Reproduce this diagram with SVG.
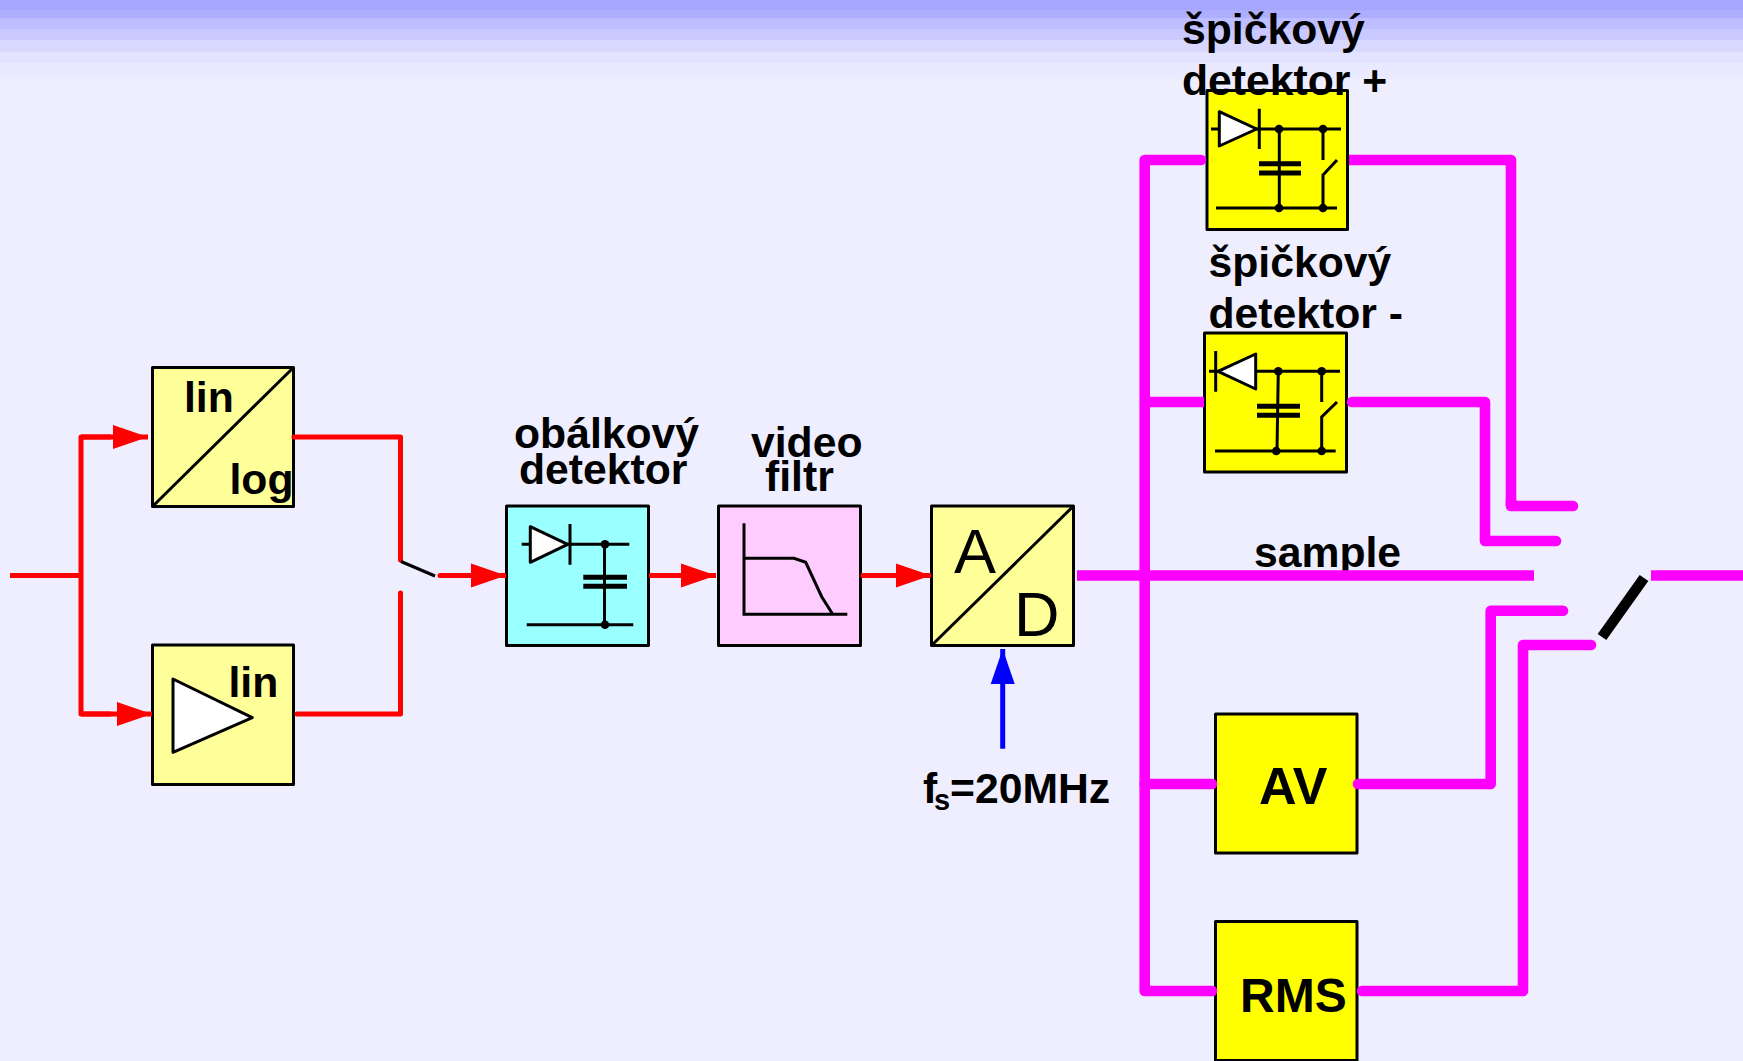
<svg xmlns="http://www.w3.org/2000/svg" width="1743" height="1061" viewBox="0 0 1743 1061">
<style>
text{font-family:"Liberation Sans",Arial,sans-serif;font-weight:bold;font-size:42.7px;fill:#000}
text.reg{font-weight:normal;font-size:63px}
text.rms{font-size:48px}
text.av{font-size:52px}
.box{stroke:#000;stroke-width:3;stroke-linejoin:round}
.pale{fill:#FFFF99}.yel{fill:#FFFF00}.cy{fill:#99FFFF}.pk{fill:#FFCCFF}
.ln{fill:none;stroke:#000;stroke-width:3}
.tri{fill:#fff;stroke:#000;stroke-width:3;stroke-linejoin:round}
.plate{fill:none;stroke:#000;stroke-width:5}
.dot{fill:#000}
.red{fill:none;stroke:#FF0000;stroke-width:5;stroke-linejoin:round;stroke-linecap:round}
.redb{fill:none;stroke:#FF0000;stroke-width:5}
.mag{fill:none;stroke:#FF00FF;stroke-width:10.6;stroke-linejoin:round;stroke-linecap:round}
.magb{fill:none;stroke:#FF00FF;stroke-width:10.6;stroke-linejoin:round}
</style>
<defs>
<marker id="arrowRed" markerUnits="userSpaceOnUse" markerWidth="36" markerHeight="26" refX="35" refY="13" orient="auto"><path d="M0 1L35 13L0 25Z" fill="#FF0000"/></marker>
<marker id="arrowBlue" markerUnits="userSpaceOnUse" markerWidth="36" markerHeight="26" refX="35" refY="13" orient="auto"><path d="M0 1L35 13L0 25Z" fill="#0000FF"/></marker>
</defs>
<g id="background">
<rect x="0" y="0" width="1743" height="1061" fill="#EEEEFE"/>
<rect x="0" y="0" width="1743" height="10" fill="#A6A6FF"/>
<rect x="0" y="10" width="1743" height="8" fill="#AEAEFF"/>
<rect x="0" y="18" width="1743" height="11" fill="#BDBDFF"/>
<rect x="0" y="29" width="1743" height="11" fill="#C9C9FF"/>
<rect x="0" y="40" width="1743" height="12" fill="#D8D8FF"/>
<rect x="0" y="52" width="1743" height="11" fill="#E3E3FF"/>
<rect x="0" y="63" width="1743" height="16" fill="#E9E9FF"/>
</g>
<g id="node-linlog">
<rect class="box pale" x="152.5" y="367.5" width="141" height="139"/>
<path class="ln" d="M152.5 506.5L293.5 367.5"/>
<text x="184" y="412">lin</text>
<text x="229.500" y="494">log</text>
</g>
<g id="node-lin">
<rect class="box pale" x="152.5" y="645" width="141" height="139.500"/>
<path class="tri" d="M173 679V752.3L252.3 717.7Z"/>
<text x="228.500" y="697">lin</text>
</g>
<g id="node-envelope">
<text x="514" y="448">obálkový</text>
<text x="519" y="484">detektor</text>
<rect class="box cy" x="506.5" y="506" width="142" height="139.500"/>
<path class="ln" d="M521.7 544.3H629.3M604.5 544.3V624.7M526.7 624.7H633.3M570 524V564.7"/>
<path class="tri" d="M530.3 526.7V562.3L567.7 544.3Z"/>
<path class="plate" d="M583.3 577.3H627M583.3 586.3H627"/>
<circle class="dot" cx="605" cy="544.3" r="4.300"/><circle class="dot" cx="605" cy="624.7" r="4.300"/>
</g>
<g id="node-video">
<text x="751" y="457">video</text>
<text x="765" y="491">filtr</text>
<rect class="box pk" x="718.500" y="506" width="142" height="139.500"/>
<path class="ln" d="M744 523.3V614.3H847.3M744 558.3H794L805.7 562.3L821.7 596.7L832.7 614.3"/>
</g>
<g id="node-ad">
<rect class="box pale" x="931.5" y="506" width="142" height="139.500"/>
<path class="ln" d="M931.5 645.5L1073.5 506"/>
<text class="reg" x="954" y="573">A</text>
<text class="reg" x="1014" y="636">D</text>
</g>
<g id="node-peak-plus">
<rect class="box yel" x="1207" y="90.500" width="140.500" height="139"/>
<path class="ln" d="M1211 129H1341M1279.3 129V208M1216 208H1337M1259.3 108.7V149M1323 129V160M1323 208V175L1337 160"/>
<path class="tri" d="M1219.3 111.7V146L1256.7 129Z"/>
<path class="plate" d="M1259 163.7H1301M1259 173H1301"/>
<circle class="dot" cx="1279" cy="129" r="4.300"/><circle class="dot" cx="1323" cy="129" r="4.300"/><circle class="dot" cx="1279" cy="208" r="4.300"/><circle class="dot" cx="1323" cy="208" r="4.300"/>
<text x="1182" y="43.500">špičkový</text>
<text x="1182" y="95">detektor +</text>
</g>
<g id="node-peak-minus">
<text x="1208.500" y="276.500">špičkový</text>
<text x="1208.500" y="327.500">detektor -</text>
<rect class="box yel" x="1204.5" y="333" width="142" height="139"/>
<path class="ln" d="M1209 371.3H1340M1278.3 371.3L1277 451M1215 451H1335.7M1215.7 351V391.7M1321.7 371.3V402M1321.7 451V417L1337 402"/>
<path class="tri" d="M1255.7 354V389L1218 371.3Z"/>
<path class="plate" d="M1257 406.3H1300M1257 415.3H1300"/>
<circle class="dot" cx="1278.3" cy="371.3" r="4.300"/><circle class="dot" cx="1321.7" cy="371.3" r="4.300"/><circle class="dot" cx="1276.3" cy="451" r="4.300"/><circle class="dot" cx="1321.7" cy="451" r="4.300"/>
</g>
<g id="node-av">
<rect class="box yel" x="1215.5" y="714" width="141.500" height="139"/>
<text class="av" x="1259" y="804">AV</text>
</g>
<g id="node-rms">
<rect class="box yel" x="1215.5" y="921.500" width="141.500" height="139"/>
<text class="rms" x="1240" y="1012">RMS</text>
</g>
<g id="label-fs">
<text x="923" y="803">f</text>
<text x="934" y="810" style="font-size:29px">s</text>
<text x="950" y="803">=20MHz</text>
</g>
<g id="label-sample"><text x="1254" y="567">sample</text></g>
<g id="connectors">
<path class="redb" d="M10 575.500H81"/>
<path class="redb" d="M81 437H148" marker-end="url(#arrowRed)"/>
<path class="redb" d="M81 714H152" marker-end="url(#arrowRed)"/>
<path class="red" d="M110 437H81V714H110"/>
<path class="red" d="M294 437H400.5V560"/>
<path class="red" d="M400.5 593V714H297"/>
<path class="ln" d="M401 561.5L435 576"/>
<path class="red" d="M440 575.500H475"/>
<path class="redb" d="M440 575.500H506" marker-end="url(#arrowRed)"/>
<path class="redb" d="M649 575.500H716" marker-end="url(#arrowRed)"/>
<path class="redb" d="M861 575.500H931" marker-end="url(#arrowRed)"/>
<path d="M1002.7 748.7V649" fill="none" stroke="#0000FF" stroke-width="5" marker-end="url(#arrowBlue)"/>
<path class="magb" d="M1077 575.500H1534"/>
<path class="mag" d="M1201 160H1144.7V991H1212"/>
<path class="magb" d="M1144.7 402H1204"/>
<path class="mag" d="M1144.7 784H1212"/>
<path class="magb" d="M1349 160H1511V506"/>
<path class="mag" d="M1511 500V506H1573"/>
<path class="mag" d="M1352 402H1485V541H1556"/>
<path class="mag" d="M1358 784H1490.7V610.7H1563"/>
<path class="mag" d="M1362 991H1523V645H1591"/>
<path class="magb" d="M1651 575.500H1743"/>
<path d="M1602 637L1644 578" fill="none" stroke="#000" stroke-width="10.6"/>
</g>
</svg>
